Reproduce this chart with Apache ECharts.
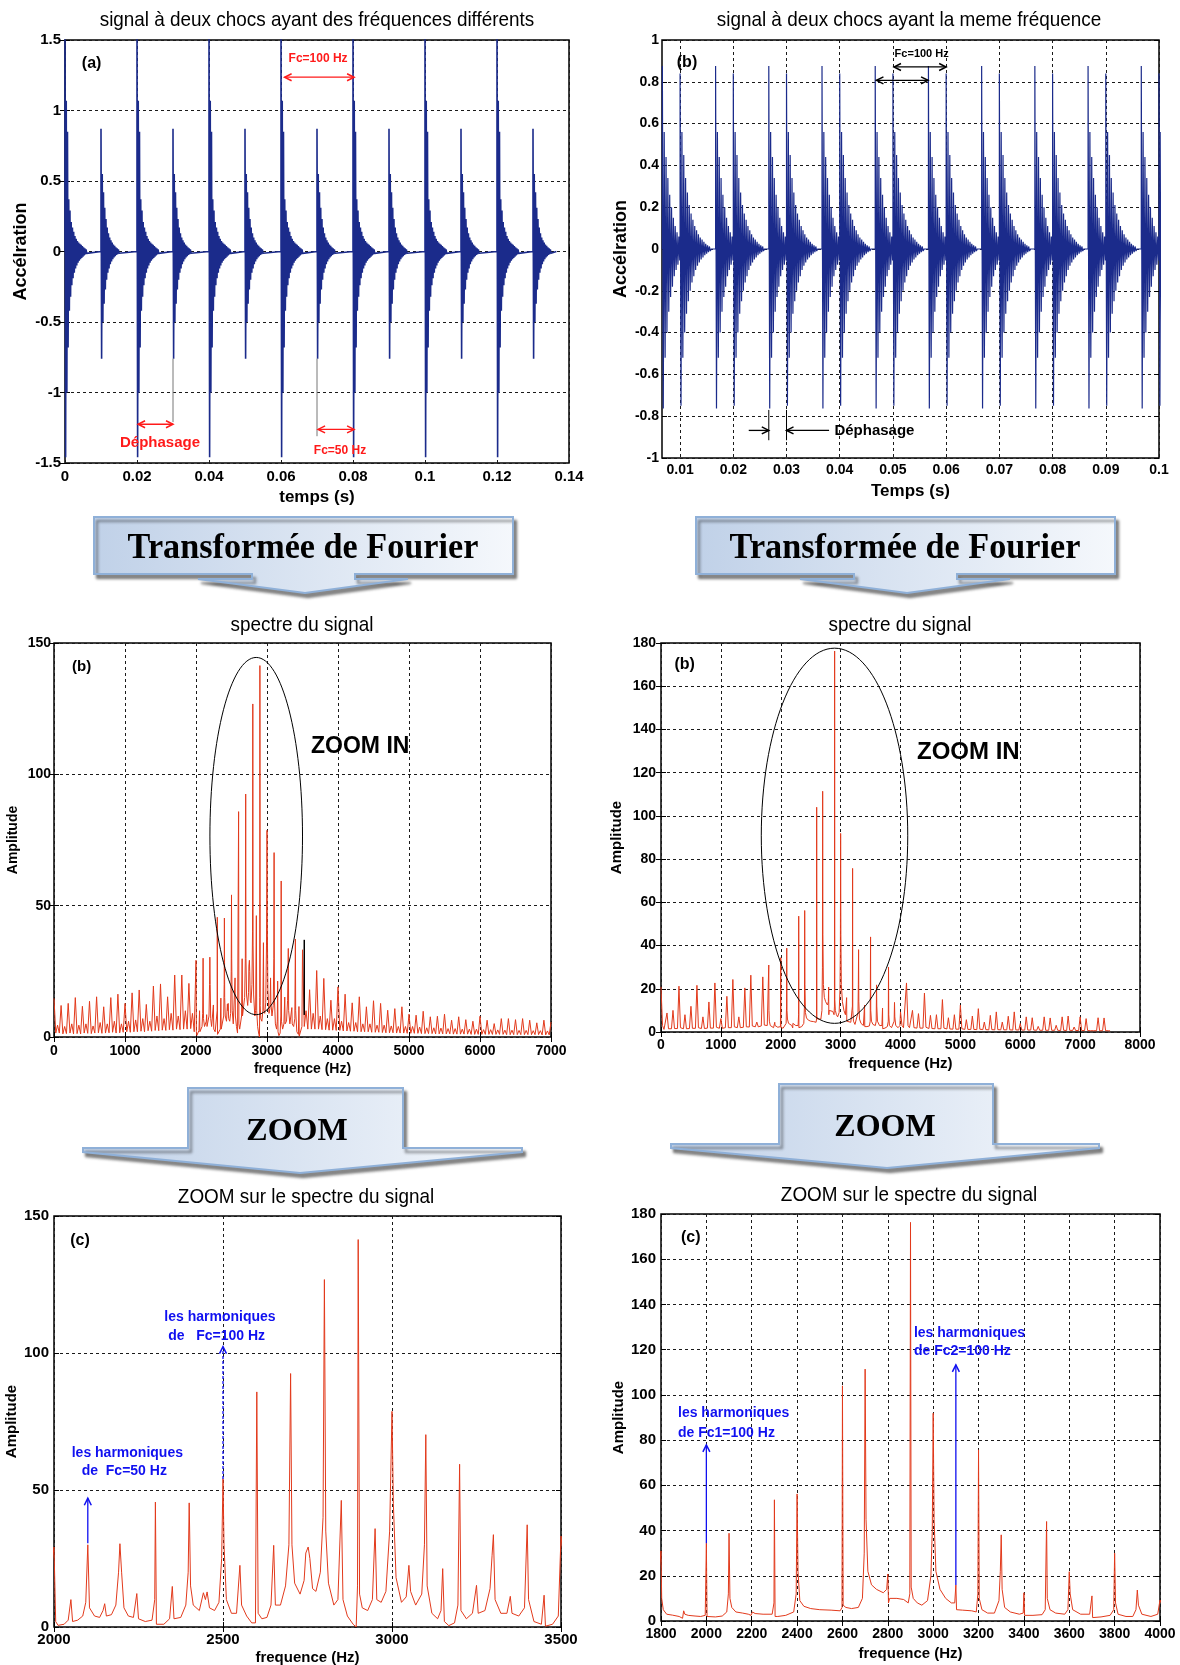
<!DOCTYPE html>
<html>
<head>
<meta charset="utf-8">
<script src="https://cdn.jsdelivr.net/npm/echarts@6/dist/echarts.min.js"></script>
<style>
html,body{margin:0;padding:0;background:#fff;}
#c{width:1180px;height:1665px;}
</style>
</head>
<body>
<div id="c"></div>
<script>
// ---------- time signals : impact instants (s) and ringing crests/troughs ----------
const RING_HALF_PERIOD = 0.000172;          // half period of the ~2.9 kHz resonance (s)

// (a) two shocks with different repetition frequencies
const strongImpactsA = [0, 0.02, 0.04, 0.06, 0.08, 0.10, 0.12];
const weakImpactsA   = [0.01, 0.03, 0.05, 0.07, 0.09, 0.11, 0.13];
const strongCrestsA  = [1.62, 1.07, 0.85, 0.37, 0.29, 0.21, 0.17, 0.14, 0.11, 0.09, 0.075, 0.063, 0.055, 0.047, 0.038, 0.03, 0.022, 0.015];
const strongTroughsA = [-1.46, -1.0, -0.68, -0.42, -0.32, -0.24, -0.19, -0.15, -0.12, -0.1, -0.08, -0.066, -0.055, -0.045, -0.036, -0.028, -0.02, -0.013];
const weakCrestsA    = [0.87, 0.55, 0.42, 0.31, 0.23, 0.17, 0.13, 0.1, 0.08, 0.064, 0.05, 0.04, 0.03, 0.022, 0.015];
const weakTroughsA   = [-0.76, -0.5, -0.37, -0.27, -0.2, -0.15, -0.12, -0.09, -0.07, -0.055, -0.043, -0.033, -0.025, -0.018, -0.012];
const signalEndA     = 0.1365;

// (b) two shocks with the same frequency, shifted in time
const firstImpactsB  = [0.00667, 0.01667, 0.02667, 0.03667, 0.04667, 0.05667, 0.06667, 0.07667, 0.08667, 0.09667];
const secondImpactsB = [0.01, 0.02, 0.03, 0.04, 0.05, 0.06, 0.07, 0.08, 0.09, 0.1];
const firstCrestsB   = [0.876, 0.56, 0.44, 0.34, 0.26, 0.2, 0.15, 0.11, 0.08, 0.06];
const firstTroughsB  = [-0.763, -0.52, -0.4, -0.3, -0.23, -0.18, -0.13, -0.1, -0.075, -0.055];
const secondCrestsB  = [0.84, 0.56, 0.45, 0.34, 0.27, 0.21, 0.17, 0.14, 0.11, 0.09, 0.07, 0.055, 0.045, 0.035, 0.025, 0.018, 0.012];
const secondTroughsB = [-0.75, -0.52, -0.4, -0.31, -0.25, -0.2, -0.16, -0.13, -0.1, -0.08, -0.065, -0.05, -0.04, -0.03, -0.022, -0.015, -0.01];
const timeTicksB     = [0.01, 0.02, 0.03, 0.04, 0.05, 0.06, 0.07, 0.08, 0.09, 0.1];

// ---------- spectra : amplitudes sampled every 25 Hz outside the zoomed band ----------
const BAND_STEP = 25;

const leftLowStart = 0;
const leftLowAmps = [14.7,1.5,4.5,1.5, 12,1.2,4,1.3, 12.8,1.5,5,1.2, 15,1.3,4.5,1.2, 11.7,1.5,5,1.4,
  13.6,1.3,4.2,1.5, 15.3,1.6,5.5,1.4, 11.5,1.5,5,1.6, 15,1.8,6,1.5, 16.3,1.6,5,1.8,
  12.8,2,6,1.8, 16.8,2,6.5,2, 17.9,2.2,7,2, 12.4,2.4,6,2.2, 19.4,2.5,8,2.4,
  20.2,2.6,7,2.5, 15.3,2.8,9,2.6, 23.6,3,8,2.8, 23.6,3,10,3, 20.4,3.2,9,2];
// 2000-3500 Hz band, [frequency, amplitude]
const leftZoomBand = [[2000,29.2],[2005,2],[2012,0.6],[2030,1],[2042,2.5],[2050,10],[2055,2],[2070,2.5],[2085,4],[2094,9],
  [2100,30],[2105,7],[2120,4],[2135,3.5],[2145,6],[2150,8.5],[2155,4],[2170,4.5],[2183,8],[2191,20],[2195,30.4],[2200,20],
  [2207,7],[2220,4],[2235,3.5],[2245,12.2],[2250,3],[2270,2],[2290,2.5],[2298,10],[2300,45.6],[2303,1],[2308,0.3],[2325,1],
  [2342,3],[2350,14.8],[2355,3],[2375,3.5],[2390,8],[2397,20],[2400,45.3],[2404,15],[2412,8],[2430,6],[2442,12.5],[2448,10],
  [2453,12.8],[2460,7],[2475,6],[2488,9],[2496,25],[2500,54.1],[2503,30],[2510,10],[2525,5],[2540,5],[2550,22.5],[2555,8],
  [2570,4],[2585,1.5],[2596,1.5],[2600,85.8],[2604,5],[2615,3],[2630,3.5],[2642,8],[2650,29.8],[2655,8],[2670,8],[2685,15],
  [2695,30],[2700,92.5],[2704,30],[2712,16],[2728,12],[2740,17],[2745,27],[2752,29.2],[2757,25],[2765,14],[2775,13],[2788,20],
  [2796,40],[2800,126.8],[2804,35],[2812,16],[2828,8],[2840,10],[2850,46.2],[2855,10],[2868,4],[2885,1],[2894,0],[2898,15],
  [2900,141.4],[2904,12],[2912,7],[2928,6],[2942,10],[2950,35.9],[2955,10],[2968,9],[2982,13],[2993,35],[3000,78.7],[3004,45],
  [3012,18],[3028,9],[3042,11],[3050,22.5],[3055,13],[3070,8],[3088,12],[3096,30],[3100,70.2],[3104,15],[3118,5],[3135,3],
  [3145,6],[3150,21.3],[3155,2],[3168,0.5],[3185,1.5],[3195,8],[3200,59.4],[3204,6],[3220,3],[3238,5],[3250,15.2],[3255,5],
  [3275,6],[3290,14],[3296,26],[3300,33.7],[3305,10],[3322,5],[3340,5],[3350,11.2],[3355,5],[3375,4],[3392,7],[3400,37.3],
  [3404,10],[3420,2],[3442,1],[3450,11.6],[3454,0.3],[3475,1],[3492,4],[3500,33.2]];
const leftHighStart = 3525;
const leftHighAmps = [4,10,3,
  18,3,9,3, 25.3,3,8,2.8, 22.3,2.8,7,2.6, 14,2.6,7,2.5,
  19.1,2.5,6,2.3, 16.3,2.3,5.5,2.2, 13,2.2,5.5,2, 15.3,2,5,2, 11.5,2,5,1.8,
  13.8,1.8,4.5,1.8, 12.8,1.7,4.5,1.6, 10.2,1.6,4.2,1.6, 10.8,1.5,4,1.5, 11.5,1.5,4,1.4,
  8.7,1.4,4,1.4, 8.3,1.4,3.8,1.3, 9.8,1.3,3.5,1.3, 7.7,1.3,3.5,1.2, 7.9,1.2,3.4,1.2,
  8.7,1.2,3.2,1.2, 6.4,1.1,3.2,1.1, 7.7,1.1,3,1.1, 6.6,1.1,3,1, 6,1,3,1,
  7.9,1,2.8,1, 6.4,1,2.8,1, 5.1,1,2.7,1, 7,1,2.6,0.9, 7,0.9,2.6,0.9,
  6.6,0.9,2.5,0.9, 7,0.9,2.5,0.9, 6.4,0.9,2.4,0.9, 5.4,0.9,2.4,0.8, 6.4,0.8,2.3,0.8,
  5.7];

const rightLowStart = 0;
const rightLowAmps = [20.9,3,1.2,1.5, 8.8,1.5,1.2,1.5, 10,1.6,1.2,1.6, 21.2,2,1.3,1.5, 8,1.5,1.3,1.6,
  11.9,1.7,1.3,1.7, 21.6,2,1.4,1.6, 7,1.6,1.4,1.8, 13.9,1.8,1.5,1.8, 22.7,2.2,1.5,1.7,
  6.2,1.7,1.5,2, 16.5,2,1.6,2, 24.3,2.4,1.7,2, 7,2,1.8,2.2, 20.4,2.4,1.9,2.3,
  26.3,2.8,2,2.4, 4.6,2.4,2.2,2.8, 25.5,3.2,2.6,3];
// 1800-4000 Hz band, [frequency, amplitude]
const rightZoomBand = [[1800,31],[1803,10],[1810,5],[1825,3],[1850,2.6],[1880,2],[1895,1.2],[1900,4.5],[1905,3],[1920,2.5],
  [1950,2.2],[1975,2],[1995,2.5],[2000,34.4],[2003,2],[2010,1.5],[2040,1.8],[2070,2.2],[2090,4],[2097,12],[2100,38.8],
  [2104,10],[2112,6],[2130,4],[2160,3.5],[2185,3],[2197,2.5],[2200,1.9],[2203,4],[2215,3.3],[2250,3],[2290,3],[2298,8],
  [2300,53.6],[2303,2],[2315,2],[2350,2.5],[2385,4],[2396,12],[2400,56.2],[2404,22],[2412,9],[2430,6.5],[2460,5.5],[2500,5],
  [2550,4.8],[2590,4.5],[2598,6],[2600,104],[2603,7],[2615,6],[2640,5.5],[2670,6],[2688,10],[2696,30],[2700,111.4],[2704,45],
  [2712,22],[2728,16],[2750,14],[2780,12.5],[2795,14],[2800,20.8],[2803,8],[2808,10],[2840,10],[2870,9.5],[2890,8],[2897,12],
  [2900,176.3],[2903,15],[2912,10],[2930,8],[2950,7],[2975,9],[2990,20],[2996,40],[3000,91.9],[3004,45],[3012,22],[3030,14],
  [3055,10],[3080,8],[3095,8],[3100,15.9],[3103,5],[3130,4.8],[3170,4.5],[3190,4],[3197,12],[3200,75.7],[3203,10],[3215,5],
  [3240,3.5],[3270,3.5],[3290,9],[3296,22],[3300,38.1],[3304,14],[3315,6],[3340,4],[3380,3],[3397,3.5],[3400,12.5],[3403,2.5],
  [3440,2.5],[3480,2.8],[3494,5],[3500,44],[3503,10],[3515,5],[3540,3.5],[3580,3],[3594,5],[3600,21.8],[3604,12],[3615,5],
  [3650,3],[3690,3],[3700,11.1],[3703,1.5],[3740,1.8],[3780,2.5],[3796,5],[3800,30],[3804,8],[3815,3],[3850,2],[3880,2],
  [3894,5],[3900,13.7],[3905,7],[3920,3],[3960,2],[3990,3],[4000,9.3]];
const rightHighStart = 4025;
const rightHighAmps = [3,2,2,
  22.7,3,2,2, 10,2,1.8,1.8, 8.5,1.8,1.7,1.8, 18,2.2,1.6,1.6, 7.7,1.6,1.5,1.5,
  8,1.5,1.5,1.5, 15,1.8,1.4,1.4, 6.6,1.4,1.3,1.3, 8,1.3,1.3,1.3,
  12.4,1.5,1.2,1.2, 5.7,1.2,1.2,1.2, 7.4,1.2,1.1,1.1, 10.8,1.3,1.1,1.1, 4.6,1.1,1,1,
  7.7,1.1,1,1, 9.3,1.1,1,1, 4.6,1,1,1, 7.3,1,0.9,0.9, 9.3,1,0.9,0.9,
  3.9,0.9,0.9,0.9, 7,0.9,0.9,0.9, 6.6,0.9,0.8,0.8, 2.6,0.8,0.8,0.8, 7,0.8,0.8,0.8,
  6.5,0.8,0.8,0.8, 3.1,0.8,0.7,0.7, 7,0.8,0.7,0.7, 7.4,0.8,0.7,0.7, 2.3,0.7,0.7,0.7,
  7,0.7,0.7,0.7, 6.2,0.7,0.6,0.6, 1.5,0.6,0.6,0.6, 6.6,0.6,0.6,0.6, 6.5,0.6,0.6,0.6,
  0.5];

// ---------- assembling the series ----------
function sampledBand(start, amps) {
  return amps.map((a, i) => [start + i * BAND_STEP, a]);
}
function impactEvents(times, crests, troughs) {
  return times.map(t => ({ t, crests, troughs }));
}
// every impact rings with its own crest/trough sequence until the next impact arrives
function ringingSignal(events, endTime) {
  events.sort((a, b) => a.t - b.t);
  const pts = [];
  events.forEach((ev, n) => {
    const next = n + 1 < events.length ? events[n + 1].t : Infinity;
    pts.push([ev.t, 0]);
    let last = ev.t;
    for (let k = 0; k < ev.crests.length; k++) {
      const tc = ev.t + 2 * k * RING_HALF_PERIOD;
      if (tc >= next) break;
      pts.push([tc, ev.crests[k]]); last = tc;
      const tt = tc + RING_HALF_PERIOD;
      if (tt >= next) break;
      pts.push([tt, ev.troughs[k]]); last = tt;
    }
    const tz = last + RING_HALF_PERIOD;
    if (tz < next) pts.push([tz, 0]);
  });
  if (endTime !== undefined) pts.push([endTime, 0]);
  return pts;
}

const signalA = ringingSignal(
  impactEvents(strongImpactsA, strongCrestsA, strongTroughsA)
    .concat(impactEvents(weakImpactsA, weakCrestsA, weakTroughsA)), signalEndA);
const signalB = ringingSignal(
  impactEvents(firstImpactsB, firstCrestsB, firstTroughsB)
    .concat(impactEvents(secondImpactsB, secondCrestsB, secondTroughsB)));
const spectrumA = sampledBand(leftLowStart, leftLowAmps).concat(leftZoomBand, sampledBand(leftHighStart, leftHighAmps));
const spectrumB = sampledBand(rightLowStart, rightLowAmps).concat(rightZoomBand, sampledBand(rightHighStart, rightHighAmps));

// ---------- layout ----------
const FONT = "'Liberation Sans', Arial, Helvetica, sans-serif";
const SERIF = "'Liberation Serif', 'Times New Roman', serif";
const SIGNAL_BLUE = '#1b2b8b';
const SPECTRUM_RED = '#e23a1c';

const panels = [
  { grid: {left: 65, top: 40, width: 504, height: 423},
    x: {min: 0, max: 0.14, interval: 0.02, name: 'temps (s)', nameSize: 17, nameGap: 26, size: 15, margin: 6},
    y: {min: -1.5, max: 1.5, interval: 0.5, name: 'Accélration', nameSize: 18, nameGap: 35, size: 15, margin: 4},
    data: signalA, color: SIGNAL_BLUE, width: 1.6 },
  { grid: {left: 662, top: 40, width: 497, height: 418},
    x: {min: 0.0066, max: 0.1, ticks: timeTicksB, name: 'Temps (s)', nameSize: 17, nameGap: 25, size: 14, margin: 5},
    y: {min: -1, max: 1, interval: 0.2, name: 'Accélration', nameSize: 18, nameGap: 32, size: 14, margin: 3},
    data: signalB, color: SIGNAL_BLUE, width: 1.2 },
  { grid: {left: 54, top: 643, width: 497, height: 394},
    x: {min: 0, max: 7000, interval: 1000, name: 'frequence (Hz)', nameSize: 14, nameGap: 25, size: 14, margin: 7},
    y: {min: 0, max: 150, interval: 50, name: 'Amplitude', nameSize: 14, nameGap: 34, size: 14, margin: 3},
    data: spectrumA, color: SPECTRUM_RED, width: 1 },
  { grid: {left: 661, top: 643, width: 479, height: 389},
    x: {min: 0, max: 8000, interval: 1000, name: 'frequence (Hz)', nameSize: 15, nameGap: 24, size: 14, margin: 6},
    y: {min: 0, max: 180, interval: 20, name: 'Amplitude', nameSize: 15, nameGap: 37, size: 14, margin: 5},
    data: spectrumB, color: SPECTRUM_RED, width: 1 },
  { grid: {left: 54, top: 1216, width: 507, height: 411},
    x: {min: 2000, max: 3500, interval: 500, name: 'frequence (Hz)', nameSize: 15, nameGap: 23, size: 15, margin: 5},
    y: {min: 0, max: 150, interval: 50, name: 'Amplitude', nameSize: 15, nameGap: 35, size: 15, margin: 5},
    data: spectrumA, color: SPECTRUM_RED, width: 1 },
  { grid: {left: 661, top: 1214, width: 499, height: 407},
    x: {min: 1800, max: 4000, interval: 200, name: 'frequence (Hz)', nameSize: 15, nameGap: 25, size: 14, margin: 6},
    y: {min: 0, max: 180, interval: 20, name: 'Amplitude', nameSize: 15, nameGap: 35, size: 15, margin: 5},
    data: spectrumB, color: SPECTRUM_RED, width: 1 }
];

// plain numbers, no thousands separator
const plainNumber = v => String(Math.round(v * 1e6) / 1e6);

function axisSet(cfg, i, pos, main) {
  const ax = {
    type: 'value', gridIndex: i, position: pos, min: cfg.min, max: cfg.max,
    axisLine: {show: false},
    axisTick: {show: true, inside: true, length: 5, lineStyle: {color: '#000', width: 1}},
    axisLabel: {show: false},
    splitLine: {show: false}
  };
  if (cfg.interval) ax.interval = cfg.interval;
  if (cfg.ticks) ax.axisTick.customValues = cfg.ticks;
  if (main) {
    ax.name = cfg.name;
    ax.nameLocation = 'middle';
    ax.nameGap = cfg.nameGap;
    ax.nameMoveOverlap = false;
    ax.nameTextStyle = {fontFamily: FONT, fontWeight: 'bold', fontSize: cfg.nameSize, color: '#000'};
    ax.axisLabel = {show: true, color: '#000', fontFamily: FONT, fontWeight: 'bold', fontSize: cfg.size,
                    margin: cfg.margin, formatter: plainNumber};
    if (cfg.ticks) ax.axisLabel.customValues = cfg.ticks;
    ax.splitLine = {show: true, lineStyle: {color: '#1a1a1a', width: 1, type: [3, 3]}};
  }
  return ax;
}

const xAxes = [], yAxes = [], series = [];
panels.forEach((p, i) => {
  xAxes.push(axisSet(p.x, i, 'bottom', true), axisSet(p.x, i, 'top', false));
  yAxes.push(axisSet(p.y, i, 'left', true), axisSet(p.y, i, 'right', false));
  series.push({
    type: 'line', xAxisIndex: 2 * i, yAxisIndex: 2 * i, data: p.data,
    showSymbol: false, symbol: 'none', clip: true, silent: true,
    lineStyle: {color: p.color, width: p.width}, z: 3
  });
});

const chart = echarts.init(document.getElementById('c'), null, {renderer: 'canvas'});
chart.setOption({
  animation: false,
  backgroundColor: '#fff',
  grid: panels.map(p => Object.assign({
    show: true, borderColor: '#000', borderWidth: 1.5, backgroundColor: '#fff',
    containLabel: false, outerBoundsMode: 'none'
  }, p.grid)),
  xAxis: xAxes,
  yAxis: yAxes,
  series: series
});

// ---------- titles, arrows and annotations ----------
const G = [];
function toPx(panel, v) {
  return chart.convertToPixel({xAxisIndex: 2 * panel, yAxisIndex: 2 * panel}, v);
}
function text(x, y, str, o) {
  G.push({
    type: 'text', x: x, y: y, z: 100, scaleX: o.scaleX || 1,
    style: {text: str, fill: o.color || '#000', fontFamily: o.family || FONT,
            fontWeight: o.weight || 'bold', fontSize: o.size,
            align: o.align || 'center', verticalAlign: 'middle'}
  });
}
function line(a, b, color, w, dash) {
  G.push({type: 'line', z: 100, shape: {x1: a[0], y1: a[1], x2: b[0], y2: b[1]},
          style: {stroke: color, lineWidth: w, lineDash: dash || null}});
}
function head(tip, from, color, w) {
  const dx = tip[0] - from[0], dy = tip[1] - from[1];
  const L = Math.hypot(dx, dy) || 1, ux = dx / L, uy = dy / L;
  const len = 7, hw = 3.5, bx = tip[0] - ux * len, by = tip[1] - uy * len;
  G.push({type: 'polyline', z: 100,
          shape: {points: [[bx - uy * hw, by + ux * hw], tip, [bx + uy * hw, by - ux * hw]]},
          style: {stroke: color, lineWidth: w, fill: null}});
}
function arrow(panel, from, to, color, both, dash) {
  const a = toPx(panel, from), b = toPx(panel, to);
  line(a, b, color, 1.3, dash);
  head(b, a, color, 1.5);
  if (both) head(a, b, color, 1.5);
}
function note(panel, at, str, o) {
  const p = toPx(panel, at);
  text(p[0], p[1], str, o);
}
function ellipse(panel, c, rx, ry) {
  const p = toPx(panel, c), px = toPx(panel, [c[0] + rx, c[1]]), py = toPx(panel, [c[0], c[1] + ry]);
  G.push({type: 'ellipse', z: 100, shape: {cx: p[0], cy: p[1], rx: Math.abs(px[0] - p[0]), ry: Math.abs(p[1] - py[1])},
          style: {fill: null, stroke: '#000', lineWidth: 1}});
}
function vline(panel, x, y0, y1, color, w) {
  line(toPx(panel, [x, y0]), toPx(panel, [x, y1]), color, w);
}

// panel titles
const titleStyle = {weight: 'normal', size: 21, scaleX: 0.9};
text(317, 20, 'signal à deux chocs ayant des fréquences différents', titleStyle);
text(909, 20, 'signal à deux chocs ayant la meme fréquence', titleStyle);
text(302, 625, 'spectre du signal', titleStyle);
text(900, 625, 'spectre du signal', titleStyle);
text(306, 1197, 'ZOOM sur le spectre du signal', titleStyle);
text(909, 1195, 'ZOOM sur le spectre du signal', titleStyle);

// block arrows between the rows
function banner(points, label, tx, ty, size, scaleX) {
  G.push({
    type: 'polygon', z: 50, shape: {points: points},
    style: {
      fill: new echarts.graphic.LinearGradient(0, 0, 1, 0, [
        {offset: 0, color: '#c0d1e8'}, {offset: 1, color: '#f5f8fc'}]),
      stroke: '#8fb0d8', lineWidth: 2,
      shadowBlur: 3, shadowOffsetX: 3, shadowOffsetY: 4, shadowColor: 'rgba(0,0,0,0.45)'
    }
  });
  G.push({type: 'text', x: tx, y: ty, z: 60, scaleX: scaleX,
          style: {text: label, fill: '#000', fontFamily: SERIF, fontWeight: 'bold', fontSize: size,
                  align: 'center', verticalAlign: 'middle'}});
}
function fourierArrow(dx) {
  return [[94, 517], [513, 517], [513, 574], [355, 574], [355, 579], [408, 579], [305, 593],
          [198, 579], [252, 579], [252, 574], [94, 574]].map(p => [p[0] + dx, p[1]]);
}
banner(fourierArrow(0), 'Transformée de Fourier', 303, 549, 36, 0.95);
banner(fourierArrow(602), 'Transformée de Fourier', 905, 549, 36, 0.95);
banner([[188, 1088], [403, 1088], [403, 1148], [522, 1148], [522, 1152], [300, 1173], [83, 1152], [83, 1148], [188, 1148]],
       'ZOOM', 297, 1132, 32, 1);
banner([[779, 1084], [993, 1084], [993, 1144], [1099, 1144], [1099, 1148], [887, 1168], [671, 1148], [671, 1144], [779, 1144]],
       'ZOOM', 885, 1128, 32, 1);

// (a) time signal, different frequencies
const RED = '#ff1a1a';
note(0, [0.0074, 1.335], '(a)', {size: 16});
note(0, [0.0703, 1.37], 'Fc=100 Hz', {size: 12, color: RED});
arrow(0, [0.061, 1.236], [0.0803, 1.236], RED, true);
vline(0, 0.030, -0.76, -1.21, '#777', 1);
arrow(0, [0.0203, -1.225], [0.0300, -1.225], RED, true);
note(0, [0.0264, -1.355], 'Déphasage', {size: 15, color: RED});
vline(0, 0.070, -0.76, -1.31, '#777', 1);
arrow(0, [0.0703, -1.262], [0.0803, -1.262], RED, true);
note(0, [0.0764, -1.41], 'Fc=50 Hz', {size: 12, color: RED});

// (b) time signal, same frequency
note(1, [0.0113, 0.89], '(b)', {size: 16});
note(1, [0.0554, 0.931], 'Fc=100 Hz', {size: 11});
arrow(1, [0.0502, 0.871], [0.0600, 0.871], '#000', true);
arrow(1, [0.0469, 0.807], [0.0566, 0.807], '#000', true);
vline(1, 0.02667, -0.77, -0.915, '#000', 1);
vline(1, 0.0300, -0.77, -0.915, '#000', 1);
arrow(1, [0.0229, -0.868], [0.02667, -0.868], '#000', false);
arrow(1, [0.0380, -0.868], [0.0300, -0.868], '#000', false);
note(1, [0.0390, -0.868], 'Déphasage', {size: 15, align: 'left'});

// full spectra
note(2, [390, 140.8], '(b)', {size: 15});
note(2, [3620, 110.5], 'ZOOM IN', {size: 23, align: 'left'});
ellipse(2, [2848, 76.5], 652, 68);
vline(2, 3525, 8.4, 37, '#000', 1.5);
note(3, [394, 169.8], '(b)', {size: 16});
note(3, [4276, 129.6], 'ZOOM IN', {size: 24, align: 'left'});
ellipse(3, [2898, 90.8], 1223, 86.8);

// zoomed spectra
const BLUE = '#1010f0';
note(4, [2077, 141.2], '(c)', {size: 16});
note(4, [2491, 113.2], 'les harmoniques', {size: 14, color: BLUE});
note(4, [2481, 106.3], 'de   Fc=100 Hz', {size: 14, color: BLUE});
arrow(4, [2500, 54], [2500, 102.3], BLUE, false, [3, 2]);
note(4, [2217, 63.6], 'les harmoniques', {size: 14, color: BLUE});
note(4, [2208, 56.9], 'de  Fc=50 Hz', {size: 14, color: BLUE});
arrow(4, [2100, 30.6], [2100, 47], BLUE, false);

note(5, [1931, 169.4], '(c)', {size: 16});
note(5, [1875, 91.9], 'les harmoniques', {size: 14, color: BLUE, align: 'left'});
note(5, [1875, 83.1], 'de Fc1=100 Hz', {size: 14, color: BLUE, align: 'left'});
arrow(5, [2000, 34.4], [2000, 77.9], BLUE, false);
note(5, [2915, 127.3], 'les harmoniques', {size: 14, color: BLUE, align: 'left'});
note(5, [2915, 119.2], 'de Fc2=100 Hz', {size: 14, color: BLUE, align: 'left'});
arrow(5, [3100, 15.9], [3100, 113.3], BLUE, false);

chart.setOption({graphic: G});
</script>
</body>
</html>
